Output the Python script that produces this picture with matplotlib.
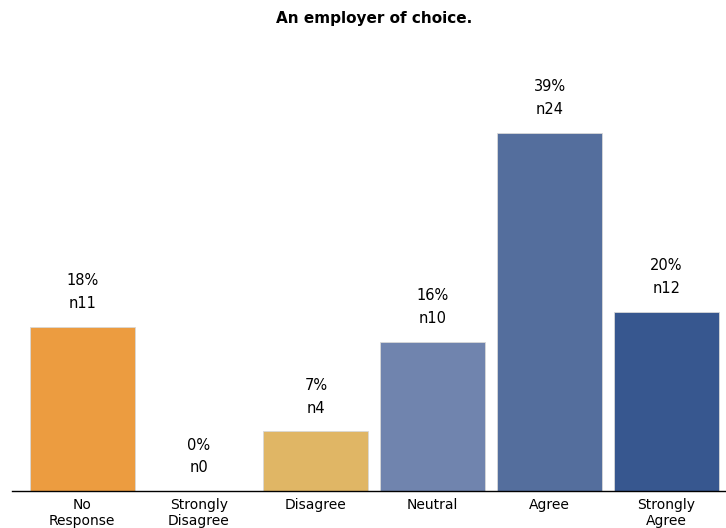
import matplotlib
matplotlib.use("Agg")
import matplotlib.pyplot as plt

categories = ["No\nResponse", "Strongly\nDisagree", "Disagree", "Neutral", "Agree", "Strongly\nAgree"]
counts = [11, 0, 4, 10, 24, 12]
percents = [18, 0, 7, 16, 39, 20]
colors = ["#EC9C40", "#5A74A4", "#E0B665", "#7084AE", "#546E9D", "#37578F"]

total = sum(counts)
heights = [c / total * 100 for c in counts]

fig = plt.figure(figsize=(7.26, 5.28), dpi=100)
ax = fig.add_axes([12 / 726, 37 / 528, 1 - 12 / 726, 451 / 528])

x = list(range(len(categories)))
bars = ax.bar(x, heights, width=0.9, color=colors, edgecolor="#d8d8d8", linewidth=0.6)

for xi, h, p, n in zip(x, heights, percents, counts):
    ax.annotate(f"n{n}", (xi, h), xytext=(0, 23), textcoords="offset pixels",
                ha="center", va="center", fontsize=10.5)
    ax.annotate(f"{p}%", (xi, h), xytext=(0, 46), textcoords="offset pixels",
                ha="center", va="center", fontsize=10.5)

ax.set_xlim(-0.6, 5.51)
ax.set_ylim(0, 49.56)
ax.set_xticks(x)
ax.set_xticklabels(categories, fontsize=10, linespacing=1.18)
ax.tick_params(axis="x", length=0, pad=5)
ax.set_yticks([])
for s in ["top", "right", "left"]:
    ax.spines[s].set_visible(False)
ax.spines["bottom"].set_linewidth(1.0)

fig.text(374 / 726, 1 - 18 / 528, "An employer of choice.", ha="center", va="center",
         fontsize=11, fontweight="bold")

fig.savefig("out.png", dpi=100)
